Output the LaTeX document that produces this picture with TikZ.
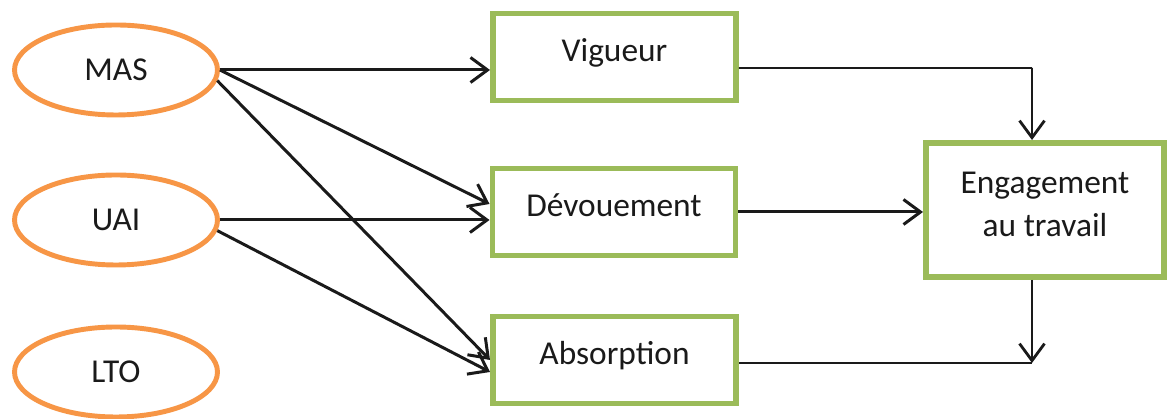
\documentclass[tikz,border=0pt]{standalone}
\usepackage{fontspec}
\setmainfont{Carlito}
\usepackage{tikz}
\usetikzlibrary{calc,arrows.meta,shapes.geometric}
\definecolor{text}{HTML}{1A1A1A}
\definecolor{orange}{HTML}{F79646}
\definecolor{olive}{HTML}{9BBB59}
\tikzset{
  oval/.style={ellipse, draw=orange, line width=2.8pt, minimum width=4.06cm, minimum height=1.8cm, inner sep=0pt, text=text, font=\fontsize{19}{23}\selectfont},
  box/.style={rectangle, draw=olive, line width=3.4pt, minimum width=4.86cm, minimum height=1.74cm, text=text, font=\fontsize{19}{24.4}\selectfont, align=center, text height=0.5cm, text depth=0.3cm},
  arr/.style={draw=text, line width=1.7pt, -{Straight Barb[length=0.34cm,width=0.5cm]}},
  tline/.style={draw=text, line width=1.1pt},
  tarr/.style={tline, -{Straight Barb[length=0.34cm,width=0.5cm,line width=1.6pt]}}
}

\begin{document}
\begin{tikzpicture}
  \path[use as bounding box, fill=white] (0,0) rectangle (23.38,8.38);

  \node[oval] (MAS) at (2.32,6.98) {MAS};
  \node[oval] (UAI) at (2.32,3.98) {UAI};
  \node[oval] (LTO) at (2.32,0.94) {LTO};

  \node[box] (Vig) at (12.29,7.24) {Vigueur};
  \node[box] (Dev) at (12.28,4.14) {Dévouement};
  \node[box] (Abs) at (12.29,1.18) {Absorption};
  \node[box, minimum width=4.76cm, minimum height=2.68cm, text height=1.3cm, text depth=0.24cm] (Eng) at (20.9,4.18) {Engagement\\au travail};

  \coordinate (topC) at (20.64,7.02);
  \coordinate (botC) at (20.64,1.12);

  \draw[arr] (MAS.east) -- (MAS.east -| Vig.west);
  \draw[arr] (MAS.east) -- ($(Dev.west)+(0,0.16)$);
  \draw[arr] (MAS.-6) -- ($(Abs.west)+(0,0)$);
  \draw[arr] (UAI.east) -- (UAI.east -| Dev.west);
  \draw[arr] (UAI.-6) -- ($(Abs.west)+(0,-0.24)$);

  \draw[tline] ($(Vig.east)+(0,-0.22)$) -- (topC);
  \draw[tarr] (topC) -- (topC |- Eng.north);
  \draw[arr] (Dev.east) -- (Dev.east -| Eng.west);
  \draw[tarr] (topC |- Eng.south) -- (botC);
  \draw[tline] (Abs.east |- botC) -- (botC);
\end{tikzpicture}
\end{document}
